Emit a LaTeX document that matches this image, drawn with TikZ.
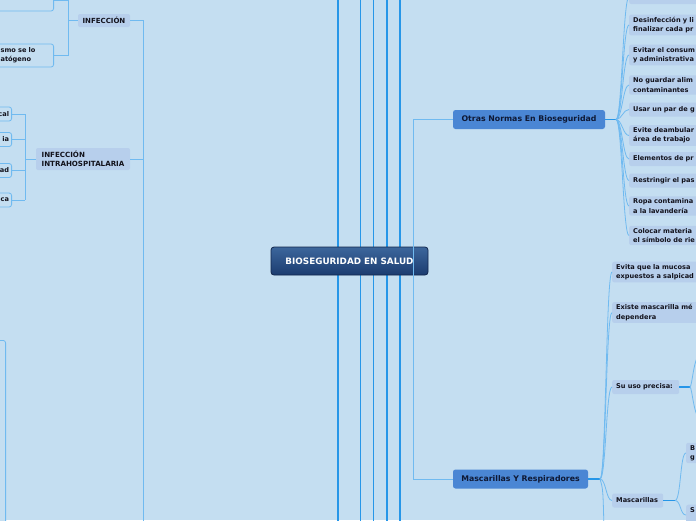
\documentclass[tikz,border=0pt]{standalone}
\usepackage{fontspec}
\setmainfont{DejaVu Sans}
\usetikzlibrary{positioning}
\definecolor{paper}{RGB}{196,222,241}
\definecolor{hubline}{RGB}{38,150,232}
\definecolor{twigline}{RGB}{112,186,240}
\definecolor{roottop}{RGB}{60,102,156}
\definecolor{rootbot}{RGB}{28,60,112}
\definecolor{rootedge}{RGB}{18,38,76}
\definecolor{mainfill}{RGB}{74,134,212}
\definecolor{maintext}{RGB}{14,24,52}
\definecolor{subfill}{RGB}{183,207,236}
\definecolor{subtext}{RGB}{18,18,28}

\begin{document}
\begin{tikzpicture}[x=1pt,y=-1pt,
  hub/.style={draw=hubline,line width=1.5pt},
  twig/.style={draw=twigline,line width=0.8pt},
  branch/.style={draw=hubline,line width=1.2pt},
  rootbox/.style={draw=rootedge,line width=0.8pt,rounded corners=3pt,top color=roottop,bottom color=rootbot,
    text=white,font=\bfseries\fontsize{8.8}{11}\selectfont,minimum width=157pt,minimum height=28pt,inner sep=0pt},
  mainbox/.style={fill=mainfill,rounded corners=2.5pt,text=maintext,font=\bfseries\fontsize{7.8}{9}\selectfont,
    minimum height=19pt,inner xsep=5pt,inner ysep=0pt},
  subbox/.style={fill=subfill,rounded corners=2pt,text=subtext,font=\bfseries\fontsize{6.6}{9.2}\selectfont,
    anchor=west,text width=120pt,align=left,inner xsep=4pt,inner ysep=2.5pt,minimum height=14pt},
  ghostbox/.style={draw=twigline,line width=0.8pt,fill=paper,rounded corners=2.5pt,text=subtext,
    font=\bfseries\fontsize{6.6}{9.2}\selectfont,inner xsep=4pt,inner ysep=2.5pt,minimum height=14pt}]

\useasboundingbox (0,0) rectangle (696,520);
\clip (0,0) rectangle (696,520);
\fill[paper] (0,0) rectangle (696,520);

% trunk lines running past the centre
\foreach \name/\xx in {ta/360.5,tb/373.7,tc/387,td/400}{
  \coordinate (\name up) at (\xx,-10);
  \coordinate (\name down) at (\xx,530);
  \draw[hub] (\name up) -- (\name down);
}
\coordinate (t0up) at (338,-10);
\coordinate (t0down) at (338,530);
\draw[hub,line width=1.2pt] (t0up) -- (t0down);

\node[rootbox] (root) at (349.5,261) {BIOSEGURIDAD EN SALUD};

% right side
\node[mainbox,minimum width=152pt] (otras) at (529,119.5) {Otras Normas En Bioseguridad};
\node[mainbox,minimum width=135pt] (masc) at (520.5,479) {Mascarillas Y Respiradores};
\coordinate (rtop) at (413,119.5);
\coordinate (rbot) at (413,479);
\draw[twig] (otras.west) -- (rtop) -- (rbot) -- (masc.west);

\coordinate (ofan) at (616,119.5);
\draw[branch] (otras.east) -- (ofan);
\node[subbox] (lugar) at (629,-3) {Lugar de trabajo};
\node[subbox] (desinf) at (629,25) {Desinfección y li\\finalizar cada pr};
\node[subbox] (consumo) at (629,55) {Evitar el consum\\y administrativa};
\node[subbox] (alim) at (629,85) {No guardar alim\\contaminantes};
\node[subbox] (guantes) at (629,109.5) {Usar un par de g};
\node[subbox] (deamb) at (629,135.5) {Evite deambular\\área de trabajo};
\node[subbox] (elem) at (629,159) {Elementos de pr};
\node[subbox] (paso) at (629,180.5) {Restringir el pas};
\node[subbox] (ropa) at (629,206) {Ropa contamina\\a la lavandería};
\node[subbox] (colocar) at (629,235.5) {Colocar materia\\el símbolo de rie};
\foreach \kid in {lugar,desinf,consumo,alim,guantes,deamb,elem,paso,ropa,colocar}
  \draw[twig] (ofan) .. controls +(6,0) and +(-6,0) .. (\kid.west);

\coordinate (mfan) at (600,479);
\draw[branch] (masc.east) -- (mfan);
\node[subbox] (mucosa) at (612,272) {Evita que la mucosa\\expuestos a salpicad};
\node[subbox] (existe) at (612,312.5) {Existe mascarilla mé\\dependera};
\node[subbox,text width=59pt] (precisa) at (612,387) {Su uso precisa:};
\node[subbox,text width=43pt] (mascs) at (612,500.5) {Mascarillas};
\coordinate (mlow) at (604,530);
\foreach \kid in {mucosa,existe,precisa,mascs}
  \draw[twig] (mfan) .. controls +(6,0) and +(-6,0) .. (\kid.west);
\draw[twig] (mfan) .. controls +(3,10) .. (mlow);

\coordinate (pfan) at (690,387);
\coordinate (pup) at (700,355);
\coordinate (pdown) at (700,418);
\draw[branch] (precisa.east) -- (pfan);
\draw[twig] (pfan) .. controls +(2,0) and +(-6,0) .. (pup);
\draw[twig] (pfan) .. controls +(2,0) and +(-6,0) .. (pdown);

\coordinate (kfan) at (675,500.5);
\node[subbox] (bkid) at (686,453) {B\\g};
\node[subbox] (skid) at (686,515) {S\\\phantom{g}};
\draw[branch] (mascs.east) -- (kfan);
\draw[twig] (kfan) .. controls +(6,0) and +(-6,0) .. (bkid.west);
\draw[twig] (kfan) .. controls +(6,0) and +(-6,0) .. (skid.west);

% left side
\node[fill=subfill,rounded corners=2pt,text=subtext,font=\bfseries\fontsize{7}{8}\selectfont,
  minimum width=52pt,minimum height=13pt,inner sep=0pt] (infec) at (104,20.5) {INFECCIÓN};
\node[fill=subfill,rounded corners=2pt,text=subtext,font=\bfseries\fontsize{7.1}{8.6}\selectfont,
  align=left,minimum width=94pt,minimum height=22pt,inner xsep=3pt,inner ysep=0pt] (intrah) at (83,159)
  {INFECCIÓN\\INTRAHOSPITALARIA};
\coordinate (ltop) at (143,20.5);
\coordinate (lmid) at (143,159);
\coordinate (ldown) at (143,530);
\draw[twig] (infec.east) -- (ltop) -- (ldown);
\draw[twig] (intrah.east) -- (lmid);

\node[ghostbox,anchor=east,text width=66pt,minimum height=22pt] (above) at (54,0) {};
\node[ghostbox,anchor=east,text width=49pt,align=left,minimum height=23pt] (patog) at (54,55.5)
  {smo se lo\\atógeno};
\coordinate (jleft) at (68,20.5);
\coordinate (jtop) at (68,0);
\coordinate (jbot) at (68,55.5);
\draw[twig] (above.east) -- (jtop) -- (jbot) -- (patog.east);
\draw[twig] (jleft) -- (infec.west);

\node[ghostbox,anchor=east,text width=40pt,align=right,inner xsep=2.5pt] (kcal) at (12,114) {cal};
\node[ghostbox,anchor=east,text width=40pt,align=right,inner xsep=2.5pt] (kia) at (12,139.5) {ia};
\node[ghostbox,anchor=east,text width=40pt,align=right,inner xsep=2.5pt] (kad) at (12,170.5) {ad};
\node[ghostbox,anchor=east,text width=40pt,align=right,inner xsep=2.5pt] (kca) at (12,200) {ca};
\coordinate (iup) at (25,114);
\coordinate (ilow) at (25,200);
\coordinate (ijoin) at (25,159);
\draw[twig] (iup) -- (ilow);
\draw[twig] (ijoin) -- (intrah.west);
\foreach \kid in {kcal,kia,kad,kca}
  \draw[twig] (\kid.east) -- (25,0 |- \kid.east);

\node[ghostbox,anchor=north east,minimum width=40pt,minimum height=200pt] (tall) at (6,340) {};
\end{tikzpicture}
\end{document}
